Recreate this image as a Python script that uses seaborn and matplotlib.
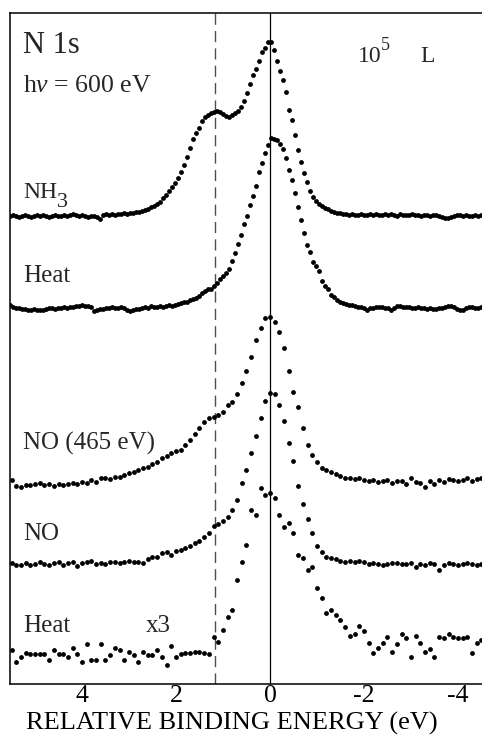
import numpy as np
import pandas as pd
import matplotlib
matplotlib.use("Agg")
import matplotlib.pyplot as plt
import seaborn as sns

# ---------------- data ----------------
# dense traces (NH3, first Heat): regular energy grid
E_dense = np.round(np.linspace(5.532, -4.489, 158), 3)
# sparse traces: 0.1 eV grid
E_sparse = np.round(np.arange(55, -46, -1) / 10.0, 1)

nh3_rel = [-1, 0, -1, -2, -1, 0, -1, -2, -1, 0,
           -1, 0, -1, -2, -1, 0, -1, -1, 0, -1,
           0, 1, 0, -1, 0, -1, -2, -1, -1, -2,
           -4, 0, 1, 0, 1, 0, 1, 1, 2, 1,
           2, 2, 3, 3, 4, 5, 6, 8, 9, 11,
           13, 17, 20, 24, 28, 32, 37, 43, 50, 58,
           67, 76, 82, 87, 94, 98, 100, 102, 103, 104,
           103, 101, 99, 98, 100, 102, 104, 108, 114, 122,
           131, 140, 146, 154, 163, 167, 173, 173, 165, 154,
           144, 135, 123, 105, 95, 80, 65, 53, 42, 33,
           24, 18, 14, 11, 9, 7, 6, 4, 3, 2,
           2, 1, 1, 0, 1, 0, 0, 1, 0, 0,
           1, 0, 1, 0, 0, 1, 0, 1, 0, -1,
           1, 0, 0, 0, 1, 0, 0, -1, 0, 0,
           -1, 0, 0, -1, -2, -3, -3, -2, -1, 0,
           0, -1, 0, -1, -1, 0, -1, 0]

heat1_rel = [2, 0, -1, -1, -2, -2, -3, -3, -2, -3,
             -3, -3, -2, -1, -1, -2, -1, -1, 0, -1,
             0, 0, 1, 1, 2, 1, 1, 0, -4, -3,
             -2, -2, -1, -1, 0, -1, -1, 0, -1, -3,
             -4, -3, -2, -2, -1, 0, -1, 1, 0, 0,
             1, 0, 1, 2, 1, 2, 3, 4, 5, 5,
             7, 8, 9, 11, 14, 16, 18, 18, 21, 24,
             28, 31, 34, 38, 46, 54, 63, 72, 83, 91,
             102, 111, 121, 135, 144, 154, 162, 169, 168, 167,
             163, 158, 149, 137, 127, 114, 100, 87, 74, 62,
             55, 45, 41, 36, 26, 21, 18, 12, 10, 7,
             5, 4, 3, 2, 2, 1, 0, 0, -1, -3,
             -1, -1, 0, 0, 0, -1, -1, -3, -1, 1,
             1, 0, 0, 0, -1, -1, 0, -1, -1, -2,
             -1, -2, -2, -1, -1, 0, 1, 1, 0, -2,
             -3, -3, -1, 0, 0, -1, -1, 0]

no465_rel = [3, -3, -4, -2, -2, -1, 0, -2, -1, -3,
             -1, -2, -1, 0, -1, 1, 0, 3, 1, 5,
             5, 4, 6, 6, 8, 10, 11, 13, 15, 16,
             19, 21, 25, 27, 30, 32, 33, 38, 43, 49,
             55, 61, 65, 66, 68, 71, 78, 81, 89, 100,
             112, 126, 143, 155, 165, 166, 161, 151, 135, 112,
             91, 76, 55, 38, 28, 21, 15, 13, 11, 9,
             7, 5, 5, 4, 5, 3, 2, 3, 1, 2,
             3, 0, 2, 2, -1, 5, 1, 0, -4, 2,
             -1, 3, 1, 4, 3, 2, 3, 5, 2, 4,
             5]

no_rel = [0, -2, -2, 0, -2, -1, 1, -1, -2, 0,
          1, -2, 0, 1, -3, 0, 1, 2, -1, 0,
          -1, 1, 1, 0, 1, 2, 1, 1, 0, 4,
          6, 6, 10, 11, 8, 12, 13, 15, 17, 20,
          22, 26, 30, 37, 39, 42, 46, 53, 63, 80,
          93, 110, 127, 145, 162, 170, 169, 158, 142, 120,
          102, 77, 59, 44, 30, 17, 11, 6, 5, 4,
          2, 1, 2, 1, 2, 1, -1, 0, -1, -2,
          -1, 0, 0, -1, -1, 0, -4, -1, -2, 0,
          -1, -7, -2, 0, -1, -2, -1, 0, -1, -2,
          -1]

heat3_rel = [3, -9, -4, 0, -1, -1, -1, -1, -7, 3,
             -1, -1, -4, 5, -1, -9, 9, -7, -7, 9,
             -7, -2, 5, 3, -7, 1, -2, -9, 1, -2,
             -2, 3, -4, -12, 7, -4, -1, 0, 0, 1,
             1, 0, -1, 16, 11, 23, 36, 43, 73, 91,
             108, 143, 138, 165, 158, 160, 155, 138, 126, 130,
             120, 98, 95, 83, 86, 65, 55, 40, 43, 38,
             33, 26, 17, 19, 27, 22, 10, 0, 5, 10,
             16, 1, 9, 19, 15, -4, 17, 10, 1, 4,
             -4, 16, 15, 19, 16, 15, 15, 16, 0, 10,
             13]

trace_names = ["NH3", "Heat", "NO (465 eV)", "NO", "Heat x3"]
trace_offsets = [469, 377, 201, 121, 31]

# ---------------- style ----------------
sns.set_theme(style="white")
plt.rcParams["font.family"] = ["Liberation Serif", "DejaVu Serif"]
plt.rcParams["mathtext.fontset"] = "custom"
plt.rcParams["mathtext.rm"] = "Liberation Serif"
plt.rcParams["mathtext.it"] = "Liberation Serif:italic"
plt.rcParams["axes.unicode_minus"] = False

fig = plt.figure(figsize=(4.82, 7.40), dpi=100)
ax = fig.add_axes([10 / 482, 56 / 740, 472 / 482, 671 / 740])

frames = []
for name, E, rel, off in zip(trace_names,
                             [E_dense, E_dense, E_sparse, E_sparse, E_sparse],
                             [nh3_rel, heat1_rel, no465_rel, no_rel, heat3_rel],
                             trace_offsets):
    frames.append(pd.DataFrame({"energy": E,
                                "intensity": np.asarray(rel, float) + off,
                                "trace": name}))
df = pd.concat(frames, ignore_index=True)

ax.axvline(1.17, color="0.3", lw=1.0, ls=(0, (8, 4.5)), zorder=1)
ax.axvline(0.0, color="black", lw=0.9, zorder=1)

sns.scatterplot(data=df, x="energy", y="intensity", color="black", s=12,
                linewidth=0, legend=False, ax=ax, zorder=3)

ax.set_xlim(5.532, -4.511)
ax.set_ylim(0, 671)
ax.set_xticks([4, 2, 0, -2, -4])
ax.set_xticklabels(["4", "2", "0", "-2", "-4"])
ax.set_yticks([])
ax.tick_params(axis="x", direction="in", length=8.6, width=1.0,
               labelsize=18.5, pad=0.5, colors="black")
ax.set_ylabel("")
for side in ["left", "top", "bottom"]:
    ax.spines[side].set_color("black")
    ax.spines[side].set_linewidth(1.1)
ax.spines["right"].set_visible(False)

ax.set_xlabel("RELATIVE BINDING ENERGY (eV)", fontsize=19, color="black")
ax.xaxis.label.set_va("baseline")
ax.xaxis.set_label_coords(221.5 / 472, -46 / 671)

tx = 5.255
ax.text(tx, 631, "N 1s", fontsize=22, va="baseline", ha="left")
ax.text(tx, 592, r"h$\nu$ = 600 eV", fontsize=18.5, va="baseline", ha="left")
ax.text(-1.872, 622, "10", fontsize=17, va="baseline", ha="left")
ax.text(-2.36, 634, "5", fontsize=13, va="baseline", ha="left")
ax.text(-3.19, 622, "L", fontsize=17, va="baseline", ha="left")
ax.text(tx, 486, "NH", fontsize=17, va="baseline", ha="left")
ax.text(4.53, 477, "3", fontsize=16, va="baseline", ha="left")
ax.text(tx, 402, "Heat", fontsize=18, va="baseline", ha="left")
ax.text(tx, 234, "NO (465 eV)", fontsize=18, va="baseline", ha="left")
ax.text(tx, 144, "NO", fontsize=18, va="baseline", ha="left")
ax.text(tx, 52, "Heat", fontsize=18, va="baseline", ha="left")
ax.text(2.64, 52, "x3", fontsize=18, va="baseline", ha="left")

fig.savefig("out.png", dpi=100)
